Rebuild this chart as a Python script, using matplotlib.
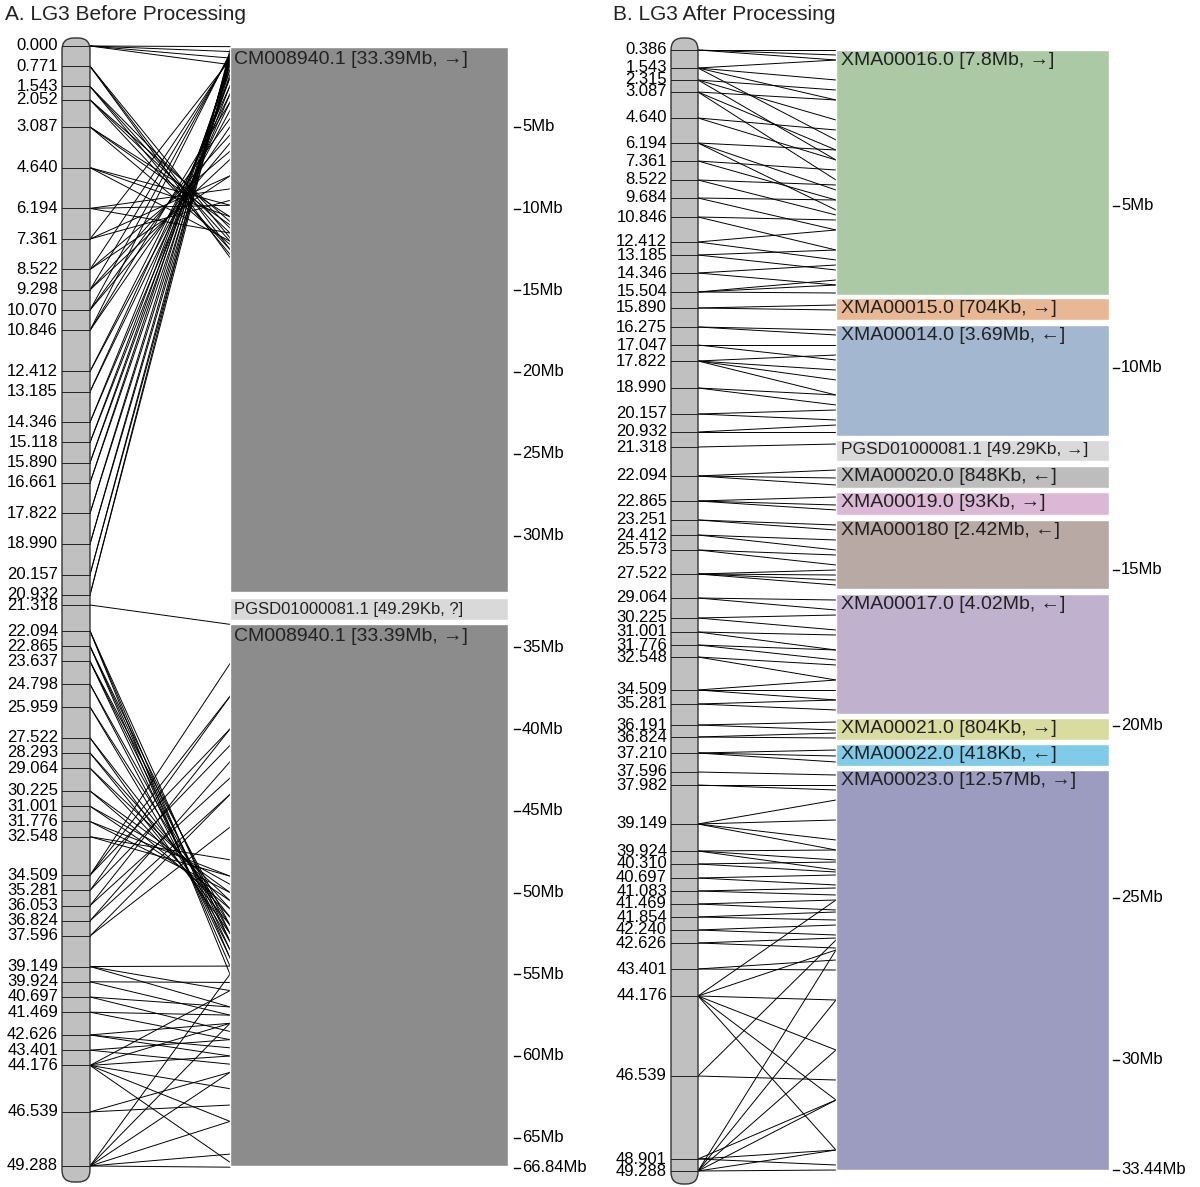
import matplotlib
matplotlib.use("Agg")
import matplotlib.pyplot as plt
from matplotlib.patches import FancyBboxPatch, Rectangle
import numpy as np

plt.rcParams['font.family'] = ['Liberation Sans', 'DejaVu Sans']

# ---------------- Data ----------------
a_cm = [0.000,0.771,1.543,2.052,3.087,4.640,6.194,7.361,8.522,9.298,10.070,10.846,12.412,13.185,
        14.346,15.118,15.890,16.661,17.822,18.990,20.157,20.932,21.318,22.094,22.865,23.637,24.798,
        25.959,27.522,28.293,29.064,30.225,31.001,31.776,32.548,34.509,35.281,36.053,36.824,37.596,
        39.149,39.924,40.697,41.469,42.626,43.401,44.176,46.539,49.288]
a_targets = [[0.1,0.4,0.8,1.2],[12.5,13.0,11.8],[12.0,12.8,11.2],[11.5,12.5,10.8],[11.0,12.2,10.5],
             [10.5,12.0,9.8],[9.8,11.5,8.8],
             [8.0,9.5,0.9],[6.5,8.0,0.8],[5.5,7.0,0.7],[4.5,6.0,0.6],[3.5,5.0,0.5],[3.0,4.0],[2.5,3.5],
             [2.0,3.0],[1.5,2.5],
             [1.2,2.0],[1.0,1.8],[0.8,1.5],[0.6,1.2],[0.5,1.0],[0.3,0.8],[33.6],
             [54.0,55.0,53.0],[53.5,54.5,52.5],[53.0,54.0,52.0],[52.5,53.5],[52.0,53.0],[51.5,52.5],
             [51.0,52.0],
             [50.5,51.5],[50.0,51.0],[49.5,50.5],[49.0,50.0],[48.0,49.0],[36.0,38.0,40.0],[38.0,41.0],
             [40.0,43.0],[42.0,44.0],[44.0,46.0],[54.5,56.0,57.0],[55.5,57.5],[57.0,58.5],[57.5,59.0],
             [58.0,59.5,60.0],[59.0,60.5],[56.0,58.0,60.0,62.0,64.0,66.5],[61.0,63.0],
             [55.0,58.0,61.0,64.0,66.0,66.8]]
a_names = ["CM008940.1 [33.39Mb, \u2192]", "PGSD01000081.1 [49.29Kb, ?]", "CM008940.1 [33.39Mb, \u2192]"]
a_len = [33.39, 0.04929, 33.39]
a_colors = ["#8c8c8c", "#d9d9d9", "#8c8c8c"]
a_ticks = [5,10,15,20,25,30,35,40,45,50,55,60,65,66.84]

b_cm = [0.386,1.543,2.315,3.087,4.640,6.194,7.361,8.522,9.684,10.846,12.412,13.185,14.346,15.504,
        15.890,16.275,17.047,17.822,18.990,20.157,20.932,21.318,22.094,22.865,23.251,24.412,25.573,
        27.522,29.064,30.225,31.001,31.776,32.548,34.509,35.281,36.191,36.824,37.210,37.596,37.982,
        39.149,39.924,40.310,40.697,41.083,41.469,41.854,42.240,42.626,43.401,44.176,46.539,48.901,49.288]
b_names = ["XMA00016.0 [7.8Mb, \u2192]","XMA00015.0 [704Kb, \u2192]","XMA00014.0 [3.69Mb, \u2190]",
           "PGSD01000081.1 [49.29Kb, \u2192]","XMA00020.0 [848Kb, \u2190]","XMA00019.0 [93Kb, \u2192]",
           "XMA000180 [2.42Mb, \u2190]","XMA00017.0 [4.02Mb, \u2190]","XMA00021.0 [804Kb, \u2192]",
           "XMA00022.0 [418Kb, \u2190]","XMA00023.0 [12.57Mb, \u2192]"]
b_colors = ["#abc9a5","#e8b895","#a3b7d0","#d9d9d9","#bdbdbd","#dcb8d6","#b8a9a4","#c0b1cf",
            "#d9dc9f","#80cbe8","#9b9cc0"]
b_tick_labels = ["5Mb","10Mb","15Mb","20Mb","25Mb","30Mb","33.44Mb"]

# ---------------- Layout (pixel scales) ----------------
W, H = 1200, 1187
fig = plt.figure(figsize=(W/100, H/100), dpi=100)
ax = fig.add_axes([0,0,1,1]); ax.set_xlim(0,W); ax.set_ylim(H,0); ax.axis("off")

a_cm_knots = [0, 21.318, 22.094, 49.288]; a_cm_px = [46, 605, 631, 1166]
def a_cy(c): return np.interp(c, a_cm_knots, a_cm_px)
a_pxmb = 16.35
def a_my(m): return 45 + m*a_pxmb + (30 if m > 33.4 else 0)

b_label_px = [50,68,80,92,118,143,161,180,198,217,242,255,273,292,308,327,345,361,388,414,432,447,
              476,501,520,535,550,574,598,618,632,645,657,690,704,725,737,753,772,785,824,851,864,878,
              891,904,917,930,943,969,996,1076,1159,1171]
b_box_px = [(50,295),(298,320),(325,436),(440,461),(466,488),(492,515),(520,589),(594,714),
            (718,740),(744,766),(770,1170)]
b_tick_px = [206,368,570,726,898,1060,1170]
b_targets = [[50,55,60],[60,80,100,140],[90,120,160],[100,150,180],[130,160],[150,190,210],[170,200],
             [185,215],[200,230],[220,250],[230,260],[250,270],[265,285],[280,285,293],[305,310],
             [330,335],[345,360],[355,370,380,395],[395,405],[410,420],[425,432],[444],[470,478,485],
             [497,505,510],[525,530],[540,550],[555,565],[570,575,580,585],[600,610],[615,630],
             [635,650],[650,660],[665,680],[680,690,700],[700,710],[722,730],[733,738],[750,756,762],
             [775],[785,790],[800,820,840,850],[850,860,870],[862,872],[875,885],[888,895],[900,910],
             [912,920],[925,935],[938,948],[960,970],[900,950,1000,1050,1100,1150],[940,1080],
             [1100,1150,1165],[950,1000,1050,1100,1150,1170]]

def bar(x0, x1, y0, y1):
    ax.add_patch(FancyBboxPatch((x0, y0), x1-x0, y1-y0, boxstyle="round,pad=0,rounding_size=12",
                                fc="#c0c0c0", ec="#333333", lw=1, zorder=2))

fs_lab = 12
# ----- Panel A -----
ax.text(5, 15, "A. LG3 Before Processing", fontsize=15, va="center", ha="left", color="#222")
bar(62, 90, 38, 1182)
ys = [47, 598, 624]
ye = [592, 620, 1166]
for n, L, c, y0, y1 in zip(a_names, a_len, a_colors, ys, ye):
    ax.add_patch(Rectangle((230, y0), 278, y1-y0, fc=c, ec="white", lw=1, zorder=2))
    ax.text(234, y0+4, n, fontsize=14 if L > 1 else 12, va="top", ha="left", color="#222", zorder=3)
for c, tg in zip(a_cm, a_targets):
    y = a_cy(c)
    ax.plot([62, 90], [y, y], color="#222", lw=0.7, zorder=3)
    ax.text(58, y, f"{c:.3f}", fontsize=fs_lab, ha="right", va="center")
    for m in tg:
        ax.plot([90, 230], [y, a_my(m)], color="black", lw=0.7, zorder=1)
for t in a_ticks:
    y = a_my(t)
    ax.plot([514, 520], [y, y], color="black", lw=1)
    ax.text(522, y, f"{t:g}Mb", fontsize=fs_lab, va="center", ha="left")

# ----- Panel B -----
ax.text(613, 15, "B. LG3 After Processing", fontsize=15, va="center", ha="left", color="#222")
bar(671, 698, 38, 1184)
for n, c, (y0, y1) in zip(b_names, b_colors, b_box_px):
    ax.add_patch(Rectangle((836, y0), 273, y1-y0, fc=c, ec="white", lw=1, zorder=2))
    ax.text(841, y0+2, n, fontsize=14 if "PGSD" not in n else 12.5, va="top", ha="left",
            color="#222", zorder=3)
for c, yl, tg in zip(b_cm, b_label_px, b_targets):
    ax.plot([671, 698], [yl, yl], color="#222", lw=0.7, zorder=3)
    ax.text(667, yl, f"{c:.3f}", fontsize=fs_lab, ha="right", va="center")
    for t in tg:
        ax.plot([698, 836], [yl, t], color="black", lw=0.7, zorder=1)
for lab, y in zip(b_tick_labels, b_tick_px):
    ax.plot([1113, 1119], [y, y], color="black", lw=1)
    ax.text(1121, y, lab, fontsize=fs_lab, va="center", ha="left")

fig.savefig("out.png", dpi=100)
